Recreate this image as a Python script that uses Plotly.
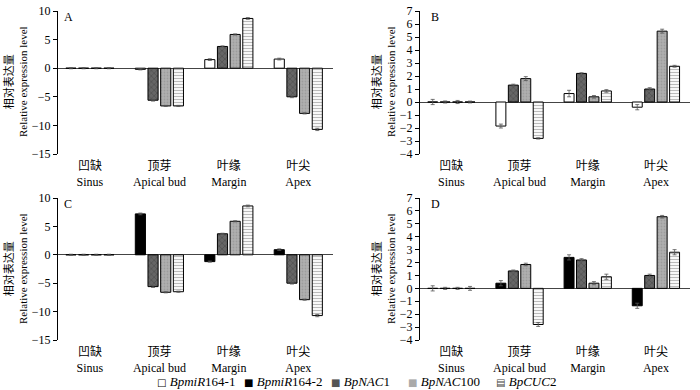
import plotly.graph_objects as go

categories = ["凹缺<br>Sinus", "顶芽<br>Apical bud", "叶缘<br>Margin", "叶尖<br>Apex"]
series_names = ["<i>BpmiR</i>164-1", "<i>BpmiR</i>164-2", "<i>BpNAC</i>1", "<i>BpNAC</i>100", "<i>BpCUC</i>2"]

# Panel A (miR164-1, NAC1, NAC100, CUC2)
A_mir1 = [0, -0.2, 1.5, 1.6]
A_nac1 = [0, -5.6, 3.8, -5.0]
A_nac100 = [0, -6.6, 5.9, -7.9]
A_cuc2 = [0, -6.6, 8.7, -10.7]
A_err = [[0.1, 0.1, 0.15, 0.15], [0.1, 0.15, 0.1, 0.15], [0.1, 0.1, 0.1, 0.1], [0.1, 0.1, 0.15, 0.2]]

# Panel B
B_mir1 = [0, -1.85, 0.65, -0.4]
B_nac1 = [0, 1.3, 2.2, 1.0]
B_nac100 = [0, 1.8, 0.4, 5.45]
B_cuc2 = [0, -2.8, 0.85, 2.75]
B_err = [[0.2, 0.15, 0.25, 0.2], [0.08, 0.07, 0.05, 0.1], [0.12, 0.15, 0.1, 0.15], [0.07, 0.05, 0.1, 0.07]]

# Panel C (miR164-2, NAC1, NAC100, CUC2)
C_mir2 = [0, 7.2, -1.2, 0.9]
C_nac1 = [0, -5.6, 3.7, -5.0]
C_nac100 = [0, -6.6, 5.9, -7.9]
C_cuc2 = [0, -6.5, 8.6, -10.7]
C_err = [[0.1, 0.15, 0.1, 0.15], [0.1, 0.15, 0.1, 0.15], [0.1, 0.1, 0.1, 0.1], [0.1, 0.1, 0.15, 0.2]]

# Panel D
D_mir2 = [0, 0.4, 2.4, -1.35]
D_nac1 = [0, 1.35, 2.2, 1.0]
D_nac100 = [0, 1.85, 0.4, 5.55]
D_cuc2 = [0, -2.8, 0.9, 2.8]
D_err = [[0.2, 0.2, 0.2, 0.2], [0.08, 0.07, 0.1, 0.1], [0.08, 0.1, 0.12, 0.1], [0.15, 0.15, 0.2, 0.2]]

A_ticks = [-15, -10, -5, 0, 5, 10]
B_ticks = [-4, -3, -2, -1, 0, 1, 2, 3, 4, 5, 6, 7]

styles = {
    0: dict(color="white", pattern=dict(shape="")),
    1: dict(color="black", pattern=dict(shape="")),
    2: dict(color="#555555", pattern=dict(shape="x", fgcolor="#333333", bgcolor="#666666", size=4, solidity=0.3)),
    3: dict(color="#aaaaaa", pattern=dict(shape=".", fgcolor="#888888", bgcolor="#b0b0b0", size=3, solidity=0.3)),
    4: dict(color="white", pattern=dict(shape="-", fgcolor="#777777", bgcolor="white", size=3, solidity=0.4)),
}
legend_glyphs = [("□", "black"), ("■", "black"), ("■", "#555555"), ("■", "#aaaaaa"), ("▤", "#444444")]

FONT = "Liberation Serif, Noto Sans CJK SC, serif"
fig = go.Figure()

panels = [
    ("x", "y", [A_mir1, A_nac1, A_nac100, A_cuc2], A_err, [0, 2, 3, 4]),
    ("x2", "y2", [B_mir1, B_nac1, B_nac100, B_cuc2], B_err, [0, 2, 3, 4]),
    ("x3", "y3", [C_mir2, C_nac1, C_nac100, C_cuc2], C_err, [1, 2, 3, 4]),
    ("x4", "y4", [D_mir2, D_nac1, D_nac100, D_cuc2], D_err, [1, 2, 3, 4]),
]
for xa, ya, vals, errs, idxs in panels:
    for v, e, si in zip(vals, errs, idxs):
        st = styles[si]
        fig.add_trace(go.Bar(
            x=list(range(4)), y=v, xaxis=xa, yaxis=ya,
            name=series_names[si], showlegend=False,
            marker=dict(color=st["color"], pattern=st["pattern"],
                        line=dict(color="black", width=1)),
            error_y=dict(type="data", array=e, color="#555555", thickness=0.8, width=2),
        ))

xd_left = [58 / 700, 333 / 700]
xd_right = [420 / 700, 690 / 700]
yd_top = [1 - 154 / 390, 1 - 11 / 390]
yd_bot = [1 - 340 / 390, 1 - 198 / 390]

def xaxis(dom, anchor):
    return dict(domain=dom, anchor=anchor, range=[-0.46, 3.5], tickmode="array",
                tickvals=list(range(4)), ticktext=categories, showline=False, ticks="",
                showgrid=False, zeroline=False, ticklabelstandoff=3, automargin=False,
                tickfont=dict(family=FONT, size=12, color="black"))

def yaxis(dom, anchor, rng, ticks):
    return dict(domain=dom, anchor=anchor, range=rng, tickmode="array", tickvals=ticks,
                showline=True, linecolor="black", linewidth=1, ticks="outside", ticklen=4,
                tickcolor="black", showgrid=False, zeroline=True, zerolinecolor="#444444",
                zerolinewidth=1, automargin=False,
                tickfont=dict(family=FONT, size=12, color="black"))

fig.update_layout(
    width=700, height=390, margin=dict(l=0, r=0, t=0, b=0, autoexpand=False),
    paper_bgcolor="white", plot_bgcolor="white",
    barmode="group", bargap=0.27, bargroupgap=0.2, showlegend=False,
    font=dict(family=FONT, size=12, color="black"),
    xaxis=xaxis(xd_left, "y"), yaxis=yaxis(yd_top, "x", [-15, 10], A_ticks),
    xaxis2=xaxis(xd_right, "y2"), yaxis2=yaxis(yd_top, "x2", [-4, 7], B_ticks),
    xaxis3=xaxis(xd_left, "y3"), yaxis3=yaxis(yd_bot, "x3", [-15, 10], A_ticks),
    xaxis4=xaxis(xd_right, "y4"), yaxis4=yaxis(yd_bot, "x4", [-4, 7], B_ticks),
)

ytitle = "相对表达量<br>Relative expression level"
for letter, lx, ly, tx, ty in [("A", 62, 17, 15, 82), ("B", 429, 17, 383, 82),
                               ("C", 62, 204, 15, 269), ("D", 429, 204, 383, 269)]:
    fig.add_annotation(text=letter, x=lx / 700, y=1 - ly / 390, xref="paper", yref="paper",
                       xanchor="left", yanchor="middle", showarrow=False,
                       font=dict(family=FONT, size=12, color="black"))
    fig.add_annotation(text=ytitle, x=tx / 700, y=1 - ty / 390, xref="paper", yref="paper",
                       xanchor="center", yanchor="middle", showarrow=False, textangle=-90,
                       font=dict(family=FONT, size=11, color="black"))

# legend drawn as text entries
legend_x = [155, 242, 329, 406, 494]
for (g, c), name, lx in zip(legend_glyphs, series_names, legend_x):
    fig.add_annotation(
        text=f"<span style='font-family:DejaVu Sans;color:{c};font-size:10px'>{g}</span> {name}",
        x=lx / 700, y=1 - 381 / 390, xref="paper", yref="paper", xanchor="left",
        yanchor="middle", showarrow=False, font=dict(family=FONT, size=13, color="black"))

fig.write_html("out.html", config={"displayModeBar": False},
               post_script="document.body.style.margin='0';document.body.style.overflow='hidden';")
